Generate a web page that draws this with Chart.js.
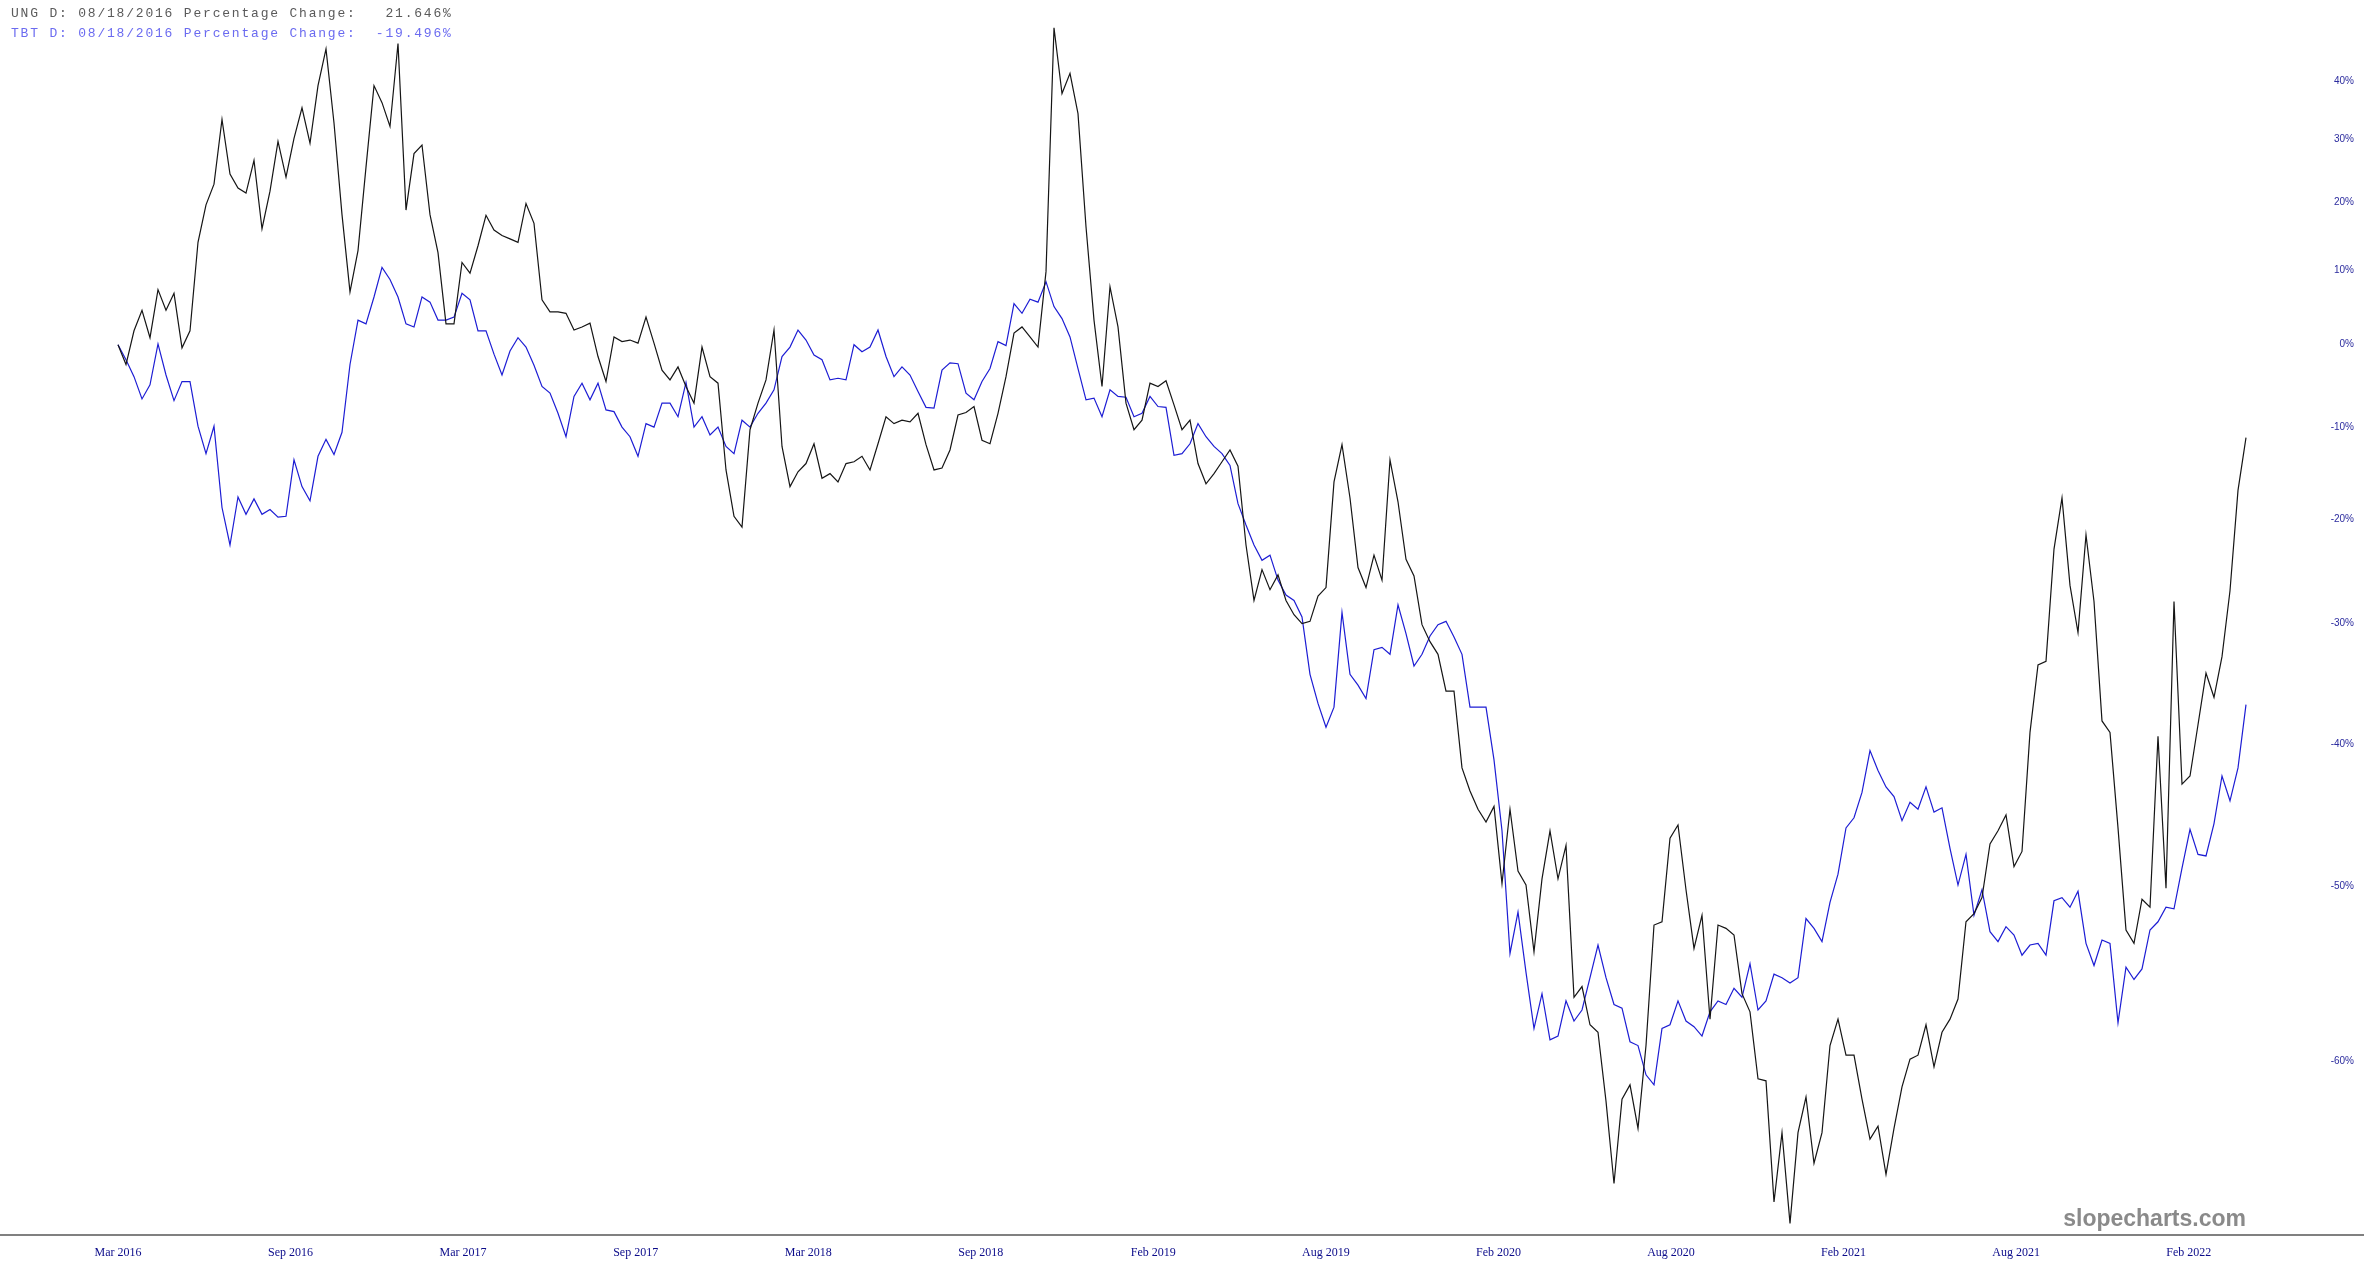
<!DOCTYPE html>
<html><head><meta charset="utf-8">
<script src="https://cdn.jsdelivr.net/npm/chart.js@4.4.1/dist/chart.umd.min.js"></script>
<style>
html,body{margin:0;padding:0;background:#fff;}
#wrap{position:relative;width:2364px;height:1275px;overflow:hidden;}
canvas{position:absolute;left:0;top:0;}
.hdr{position:absolute;left:11px;font-family:"Liberation Mono","DejaVu Sans Mono",monospace;font-size:13px;letter-spacing:1.8px;white-space:pre;line-height:16px;}
#h1{top:6px;color:#5a5a5a;}
#h2{top:26px;color:#6b6bf0;}
#wm{position:absolute;right:118px;top:1205px;font-family:"Liberation Sans",Arial,sans-serif;font-weight:bold;font-size:23px;line-height:27px;color:#8a8a8a;}
</style></head><body>
<div id="wrap"><canvas id="c" width="2364" height="1275"></canvas>
<div class="hdr" id="h1">UNG D: 08/18/2016 Percentage Change:   21.646%</div>
<div class="hdr" id="h2">TBT D: 08/18/2016 Percentage Change:  -19.496%</div>
<div id="wm">slopecharts.com</div></div>
<script>
// UNG percentage change (black), sampled about weekly
const ungValues = [
0, -2.5, 1.8, 4.5, 0.9, 7.3, 4.5, 6.8, -0.4, 1.8,
14.0, 19.6, 22.8, 33.4, 24.4, 22.2, 21.4, 26.6, 16.0, 21.7,
29.7, 23.9, 30.2, 35.4, 29.4, 39.3, 46.0, 32.8, 18.1, 7.0,
12.8, 25.5, 39.3, 36.3, 32.2, 47.0, 18.8, 27.7, 29.1, 18.1,
12.5, 2.7, 2.7, 11.1, 9.6, 13.5, 18.0, 15.8, 15.0, 14.5,
14.0, 19.8, 16.8, 5.9, 4.3, 4.3, 4.1, 1.9, 2.3, 2.8,
-1.5, -4.6, 1.0, 0.4, 0.6, 0.2, 3.6, 0.2, -3.2, -4.4,
-2.8, -5.2, -7.2, -0.3, -4.0, -4.8, -14.8, -19.7, -20.8, -10.3,
-7.2, -4.4, 1.9, -12.2, -16.6, -15.0, -14.1, -11.9, -15.7, -15.2,
-16.1, -14.1, -13.9, -13.3, -14.8, -11.9, -8.8, -9.6, -9.2, -9.4,
-8.4, -12.0, -14.8, -14.6, -12.6, -8.6, -8.3, -7.6, -11.5, -11.9,
-8.4, -4.0, 1.5, 2.3, 1.0, -0.3, 9.8, 50.0, 37.9, 41.5,
34.4, 16.3, 3.2, -5.2, 7.7, 2.3, -7.2, -10.3, -9.2, -4.8,
-5.2, -4.5, -7.4, -10.3, -9.2, -14.1, -16.3, -15.2, -13.9, -12.6,
-14.4, -22.6, -27.9, -25.0, -26.9, -25.5, -27.9, -29.2, -30.0, -29.8,
-27.5, -26.7, -16.1, -12.0, -17.8, -24.8, -26.7, -23.6, -26.0, -13.7,
-18.2, -24.0, -25.6, -30.1, -31.6, -32.7, -35.8, -35.8, -41.8, -43.5,
-44.8, -45.7, -44.6, -49.8, -44.8, -49.0, -49.9, -54.0, -49.5, -46.3,
-49.5, -47.3, -56.6, -56.0, -58.1, -58.5, -62.0, -65.8, -61.9, -61.2,
-63.3, -59.2, -52.4, -52.2, -46.8, -45.9, -50.2, -53.8, -51.8, -57.8,
-52.4, -52.6, -53.0, -56.4, -57.4, -60.9, -61.0, -66.6, -63.5, -67.5,
-63.5, -61.8, -64.9, -63.5, -59.2, -57.8, -59.7, -59.7, -61.9, -63.8,
-63.2, -65.4, -63.3, -61.3, -59.9, -59.7, -58.1, -60.3, -58.5, -57.8,
-56.7, -52.2, -51.7, -50.7, -47.2, -46.3, -45.2, -48.7, -47.7, -39.1,
-33.6, -33.3, -23.0, -17.8, -26.5, -30.8, -21.6, -28.0, -38.2, -39.1,
-46.1, -52.7, -53.5, -50.8, -51.3, -39.4, -50.1, -28.0, -43.0, -42.4,
-38.5, -34.3, -36.3, -32.9, -27.0, -17.0, -11.2
];
// TBT percentage change (blue)
const tbtValues = [
0, -1.9, -4.0, -6.7, -5.0, 0.1, -3.8, -6.9, -4.6, -4.6,
-9.9, -13.0, -9.9, -18.8, -22.6, -17.7, -19.5, -17.9, -19.5, -19.0,
-19.8, -19.7, -13.7, -16.6, -18.1, -13.3, -11.4, -13.1, -10.6, -2.5,
3.2, 2.7, 6.3, 10.4, 8.7, 6.3, 2.7, 2.3, 6.3, 5.6,
3.2, 3.2, 3.6, 6.8, 5.9, 1.8, 1.8, -1.2, -3.8, -0.8,
0.9, -0.3, -2.6, -5.2, -6.0, -8.4, -11.1, -6.4, -4.8, -6.8,
-4.8, -8.0, -8.2, -10.0, -11.1, -13.3, -9.6, -10.0, -7.2, -7.2,
-8.8, -4.7, -10.0, -8.8, -10.9, -10.0, -12.2, -13.0, -9.2, -10.0,
-8.4, -7.2, -5.6, -1.5, -0.3, 1.9, 0.6, -1.3, -1.9, -4.4,
-4.2, -4.4, 0.0, -0.9, -0.3, 1.9, -1.5, -4.0, -2.8, -3.8,
-5.8, -7.7, -7.8, -3.2, -2.3, -2.4, -6.0, -6.8, -4.6, -3.0,
0.4, -0.1, 5.4, 4.1, 6.0, 5.6, 8.4, 5.0, 3.4, 1.0,
-3.0, -6.8, -6.6, -8.8, -5.6, -6.4, -6.5, -8.8, -8.4, -6.4,
-7.6, -7.7, -13.2, -13.0, -11.9, -9.6, -11.1, -12.2, -13.0, -14.3,
-18.4, -20.6, -22.6, -24.1, -23.6, -26.0, -27.4, -27.9, -29.4, -34.4,
-36.8, -38.7, -37.1, -29.0, -34.4, -35.3, -36.4, -32.3, -32.1, -32.7,
-28.3, -30.9, -33.7, -32.7, -31.1, -30.1, -29.8, -31.2, -32.7, -37.1,
-37.1, -37.1, -41.2, -46.3, -54.1, -51.6, -55.2, -58.3, -56.4, -58.9,
-58.7, -56.8, -57.9, -57.3, -55.5, -53.6, -55.5, -57.0, -57.2, -59.0,
-59.2, -60.7, -61.2, -58.3, -58.1, -56.8, -57.9, -58.2, -58.7, -57.4,
-56.8, -57.0, -56.1, -56.6, -54.7, -57.3, -56.8, -55.3, -55.5, -55.8,
-55.5, -52.0, -52.6, -53.4, -51.0, -49.2, -46.1, -45.4, -43.6, -40.5,
-42.0, -43.2, -43.9, -45.6, -44.3, -44.8, -43.2, -45.0, -44.7, -47.5,
-49.9, -47.9, -51.8, -50.2, -52.8, -53.4, -52.5, -53.0, -54.2, -53.6,
-53.5, -54.2, -50.9, -50.7, -51.3, -50.3, -53.5, -54.8, -53.3, -53.5,
-58.0, -54.9, -55.6, -55.0, -52.7, -52.2, -51.3, -51.4, -48.8, -46.2,
-47.9, -48.0, -45.8, -42.4, -44.2, -41.8, -36.9
];
const xTickLabels = ['Mar 2016','Sep 2016','Mar 2017','Sep 2017','Mar 2018','Sep 2018','Feb 2019',
  'Aug 2019','Feb 2020','Aug 2020','Feb 2021','Aug 2021','Feb 2022'];
const samplesPerTick = 21.57;          // ~126 trading days between date labels
const yTickPercents = [40,30,20,10,0,-10,-20,-30,-40,-50,-60];
const yRangePercent = [-67.98, 55.42];  // visible percentage range (log scale)
const xRangeSamples = [-14.75, 273.75];

const toRatio = p => 1 + p / 100;

const axisLinePlugin = {
  id: 'axisLine',
  beforeDraw(chart) {
    const c = chart.ctx; c.save(); c.fillStyle = '#fff'; c.fillRect(0, 0, chart.width, chart.height); c.restore();
  },
  afterDraw(chart) {
    const c = chart.ctx; c.save(); c.fillStyle = '#808080';
    c.fillRect(0, chart.chartArea.bottom - 1, chart.width, 2); c.restore();
  }
};

new Chart(document.getElementById('c'), {
  type: 'line',
  data: {
    datasets: [
      { label: 'UNG', data: ungValues.map((v, i) => ({ x: i, y: toRatio(v) })),
        borderColor: '#151515', borderWidth: 1.2, pointRadius: 0, tension: 0, fill: false },
      { label: 'TBT', data: tbtValues.map((v, i) => ({ x: i, y: toRatio(v) })),
        borderColor: '#1d1dd4', borderWidth: 1.2, pointRadius: 0, tension: 0, fill: false }
    ]
  },
  options: {
    responsive: false, animation: false, devicePixelRatio: 1, events: [],
    layout: { padding: { left: 0, top: 0, bottom: 0, right: 10 } },
    plugins: { legend: { display: false }, tooltip: { enabled: false }, title: { display: false } },
    scales: {
      x: {
        type: 'linear', min: xRangeSamples[0], max: xRangeSamples[1], bounds: 'data',
        grid: { display: false, drawTicks: false }, border: { display: false },
        afterBuildTicks: s => { s.ticks = xTickLabels.map((t, k) => ({ value: k * samplesPerTick })); },
        afterFit: s => { s.height = 40; s.paddingLeft = 0; s.paddingRight = 0; },
        ticks: { autoSkip: false, maxRotation: 0, minRotation: 0, padding: 11, color: '#0b0b8a',
          font: { family: 'Liberation Serif', size: 12 },
          callback: (v, idx) => xTickLabels[idx] }
      },
      y: {
        type: 'logarithmic', position: 'right',
        min: toRatio(yRangePercent[0]), max: toRatio(yRangePercent[1]), bounds: 'data',
        grid: { display: false, drawTicks: false }, border: { display: false },
        afterBuildTicks: s => { s.ticks = yTickPercents.map(p => ({ value: toRatio(p) })); },
        afterFit: s => { s.width = 46; s.paddingTop = 0; s.paddingBottom = 0; },
        ticks: { autoSkip: false, crossAlign: 'far', padding: 5, color: '#2b2b9e',
          font: { family: 'Liberation Sans', size: 10 },
          callback: (v, idx) => yTickPercents[idx] + '%' }
      }
    }
  },
  plugins: [axisLinePlugin]
});
</script>
</body></html>
